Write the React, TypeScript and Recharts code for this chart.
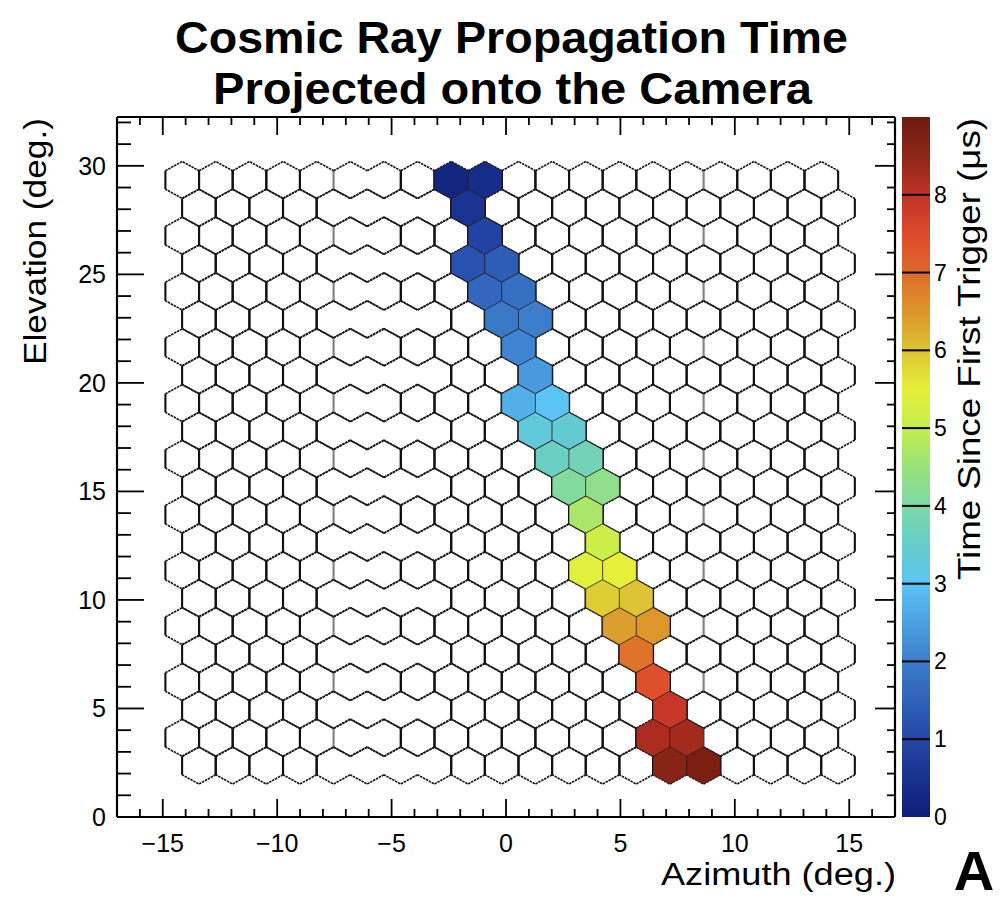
import React from 'react';
import { ScatterChart, Scatter, XAxis, YAxis, BarChart, Bar, ReferenceLine, Label } from 'recharts';

const FONT = '"Liberation Sans", Arial, Helvetica, sans-serif';

// elevation of each camera pixel row (deg.), top to bottom
const rowElevation = [29.35, 28.07, 26.78, 25.5, 24.21, 22.93, 21.64, 20.36, 19.07, 17.79, 16.5,
  15.22, 13.93, 12.65, 11.36, 10.08, 8.79, 7.51, 6.22, 4.94, 3.65, 2.37];
// azimuth of pixel centres (deg.) for even and odd rows
const azEven = [-14.15, -12.68, -11.21, -9.74, -8.27, -6.8, -5.33, -3.86, -2.39, -0.92, 0.55,
  2.02, 3.49, 4.96, 6.43, 7.9, 9.37, 10.84, 12.31, 13.78];
const azOdd = [-13.42, -11.95, -10.48, -9.01, -7.54, -6.07, -4.6, -3.13, -1.66, -0.19, 1.28,
  2.75, 4.22, 5.69, 7.16, 8.63, 10.1, 11.57, 13.04, 14.51];

// triggered pixels: row, column in row, time since first trigger (us)
const hitRow = [0, 0, 1, 2, 3, 3, 4, 4, 5, 5, 6, 7, 8, 8, 9, 9, 10, 10, 11, 11, 12, 13, 14, 14,
  15, 15, 16, 16, 17, 18, 19, 20, 20, 21, 21];
const hitCol = [8, 9, 8, 9, 8, 9, 9, 10, 9, 10, 10, 10, 10, 11, 10, 11, 11, 12, 11, 12, 12, 12, 12, 13,
  12, 13, 13, 14, 13, 14, 14, 14, 15, 14, 15];
const hitTime = [0.2, 0.35, 0.5, 0.9, 1.2, 1.4, 1.6, 1.75, 1.9, 2.0, 2.1, 2.4, 2.7, 3.0, 3.3, 3.4,
  3.6, 3.8, 4.1, 4.3, 4.7, 5.1, 5.4, 5.5, 5.9, 6.0, 6.4, 6.5, 6.9, 7.4, 7.9, 8.2, 8.3, 8.6, 8.8];

const xTicks = [-16, -15, -14, -13, -12, -11, -10, -9, -8, -7, -6, -5, -4, -3, -2, -1, 0,
  1, 2, 3, 4, 5, 6, 7, 8, 9, 10, 11, 12, 13, 14, 15, 16];
const yTicks = [0, 1, 2, 3, 4, 5, 6, 7, 8, 9, 10, 11, 12, 13, 14, 15, 16, 17, 18, 19, 20,
  21, 22, 23, 24, 25, 26, 27, 28, 29, 30, 31, 32];
const cbTicks = [0, 1, 2, 3, 4, 5, 6, 7, 8];
const CB_MAX = 9;

// colour palette (time -> colour)
const paletteValue = [0, 1, 2, 3, 3.5, 4, 4.5, 5, 5.5, 6, 6.5, 7, 7.5, 8, 8.5, 9];
const paletteColor = ['#0d1e78', '#2447a6', '#3c7dcc', '#5cc4f4', '#66ccc8', '#7ed8a8', '#98e27a',
  '#c4ee4c', '#e6f03a', '#dcc434', '#dc962c', '#df6a2c', '#de4a2c', '#c03226', '#8e2618', '#6e1a10'];

// vertical pixel edges that came out faint in the original render
const faintEdges = [
  { parity: 0, az: -7.535, op: 0.3 }, { parity: 0, az: -6.065, op: 0 }, { parity: 0, az: 8.635, op: 0.3 },
  { parity: 1, az: -6.805, op: 0 }, { parity: 1, az: -5.335, op: 0 }, { parity: 1, az: -3.865, op: 0 },
];

const W = 1001, H = 903;
const PLOT_W = 778, PLOT_H = 700;
const X_DOM: [number, number] = [-17, 17];
const Y_DOM: [number, number] = [0, 32.25];
const PX_X = PLOT_W / (X_DOM[1] - X_DOM[0]);
const PX_Y = PLOT_H / (Y_DOM[1] - Y_DOM[0]);
const HALF_W = 0.735;
const HEX_R = 0.85;
const CB_LEFT = 895;

const cells = rowElevation.flatMap((el, r) =>
  (r % 2 === 0 ? azEven : azOdd).map((az) => ({ az, el, parity: r % 2 })));
const hits = hitRow.map((r, i) => ({
  az: (r % 2 === 0 ? azEven : azOdd)[hitCol[i]], el: rowElevation[r], t: hitTime[i],
}));

const colorFor = (t: number) => {
  let i = 0;
  while (i < paletteValue.length - 2 && t > paletteValue[i + 1]) i++;
  const f = Math.min(1, Math.max(0, (t - paletteValue[i]) / (paletteValue[i + 1] - paletteValue[i])));
  const a = paletteColor[i], b = paletteColor[i + 1];
  const ch = (k: number) => {
    const va = parseInt(a.substr(1 + 2 * k, 2), 16), vb = parseInt(b.substr(1 + 2 * k, 2), 16);
    return Math.round(va + (vb - va) * f).toString(16).padStart(2, '0');
  };
  return '#' + ch(0) + ch(1) + ch(2);
};

const hexPts = (cx: number, cy: number) => {
  const hw = HALF_W * PX_X, r = HEX_R * PX_Y;
  return [[cx, cy - r], [cx + hw, cy - r / 2], [cx + hw, cy + r / 2], [cx, cy + r],
    [cx - hw, cy + r / 2], [cx - hw, cy - r / 2]];
};

const edgeOpacity = (parity: number, az: number) => {
  const f = faintEdges.find((e) => e.parity === parity && Math.abs(e.az - az) < 0.05);
  return f ? f.op : 1;
};

const EmptyPixel = (props: any) => {
  const { cx, cy, payload } = props;
  if (cx == null || cy == null) return null;
  const p = hexPts(cx, cy);
  const slant = `M${p[5]} L${p[0]} L${p[1]} M${p[2]} L${p[3]} L${p[4]}`;
  const lo = edgeOpacity(payload.parity, +(payload.az - HALF_W).toFixed(3));
  const ro = edgeOpacity(payload.parity, +(payload.az + HALF_W).toFixed(3));
  return (
    <g>
      <path d={slant} fill="none" stroke="#1c1c1c" strokeWidth={1.7} strokeDasharray="2.5 0.8" />
      {lo > 0 && <line x1={p[5][0]} y1={p[5][1]} x2={p[4][0]} y2={p[4][1]} stroke="#111" strokeWidth={2.1} strokeOpacity={lo} />}
      {ro > 0 && <line x1={p[1][0]} y1={p[1][1]} x2={p[2][0]} y2={p[2][1]} stroke="#111" strokeWidth={2.1} strokeOpacity={ro} />}
    </g>
  );
};

const HitPixel = (props: any) => {
  const { cx, cy, payload } = props;
  if (cx == null || cy == null) return null;
  const p = hexPts(cx, cy);
  return <polygon points={p.map((q) => q.join(',')).join(' ')} fill={colorFor(payload.t)} stroke="#2a1a1a" strokeOpacity={0.55} strokeWidth={1} />;
};

const fmt = (v: number) => (v < 0 ? '\u2212' + -v : String(v));

const BottomTick = ({ x, y, payload }: any) => {
  const major = payload.value % 5 === 0;
  return (
    <g>
      <line x1={x} x2={x} y1={y} y2={y - (major ? 18 : 8)} stroke="#000" strokeWidth={1.8} />
      {major && <text x={x} y={y + 35} textAnchor="middle" fontSize={25} fontFamily={FONT} fill="#000">{fmt(payload.value)}</text>}
    </g>
  );
};
const TopTick = ({ x, y, payload }: any) => (
  <line x1={x} x2={x} y1={y} y2={y + (payload.value % 5 === 0 ? 18 : 8)} stroke="#000" strokeWidth={1.8} />
);
const LeftTick = ({ x, y, payload }: any) => {
  const major = payload.value % 5 === 0;
  return (
    <g>
      <line x1={x} x2={x + (major ? 27 : 14)} y1={y} y2={y} stroke="#000" strokeWidth={1.8} />
      {major && <text x={x - 11} y={y + 9} textAnchor="end" fontSize={25} fontFamily={FONT} fill="#000">{fmt(payload.value)}</text>}
    </g>
  );
};
const RightTick = ({ x, y, payload }: any) => (
  <line x1={x} x2={x - (payload.value % 5 === 0 ? 20 : 8)} y1={y} y2={y} stroke="#000" strokeWidth={1.8} />
);
const CbTick = ({ x, y, payload }: any) => (
  <text x={x + 4} y={y + 8} fontSize={23} fontFamily={FONT} fill="#000">{payload.value}</text>
);

const AzTitle = ({ viewBox }: any) => (
  <text x={viewBox.x + viewBox.width + 1} y={885} textAnchor="end" fontSize={31} fontFamily={FONT}
    textLength={235} lengthAdjust="spacingAndGlyphs" fill="#000">Azimuth (deg.)</text>
);
const ElTitle = ({ viewBox }: any) => {
  const x = 46, y = viewBox.y + 1;
  return (
    <text transform={`rotate(-90, ${x}, ${y})`} x={x} y={y} textAnchor="end" fontSize={31} fontFamily={FONT}
      textLength={247} lengthAdjust="spacingAndGlyphs" fill="#000">Elevation (deg.)</text>
  );
};
const CbTitle = ({ viewBox }: any) => {
  const x = 980 - CB_LEFT, y = viewBox.y + 1;
  return (
    <text transform={`rotate(-90, ${x}, ${y})`} x={x} y={y} textAnchor="end" fontSize={31} fontFamily={FONT}
      textLength={462} lengthAdjust="spacingAndGlyphs" fill="#000">Time Since First Trigger (μs)</text>
  );
};

const axisLine = { stroke: '#000', strokeWidth: 2.2 };

const App = () => (
  <div style={{ position: 'absolute', left: 0, top: 0, width: W, height: H, background: '#fff', fontFamily: FONT }}>
    <div style={{ position: 'absolute', left: 0, top: 0 }}>
      <ScatterChart width={W} height={H} margin={{ top: 107, right: 96, bottom: 6, left: 0 }}>
        <XAxis xAxisId="b" type="number" dataKey="az" domain={X_DOM} ticks={xTicks} interval={0}
          height={80} tickSize={0} tickMargin={0} axisLine={axisLine} tickLine={false} tick={<BottomTick />}>
          <Label content={<AzTitle />} />
        </XAxis>
        <XAxis xAxisId="t" orientation="top" type="number" dataKey="az" domain={X_DOM} ticks={xTicks} interval={0}
          height={10} tickSize={0} tickMargin={0} axisLine={axisLine} tickLine={false} tick={<TopTick />} />
        <YAxis yAxisId="l" type="number" dataKey="el" domain={Y_DOM} ticks={yTicks} interval={0}
          width={117} tickSize={0} tickMargin={0} axisLine={axisLine} tickLine={false} tick={<LeftTick />}>
          <Label content={<ElTitle />} />
        </YAxis>
        <YAxis yAxisId="r" orientation="right" type="number" dataKey="el" domain={Y_DOM} ticks={yTicks} interval={0}
          width={10} tickSize={0} tickMargin={0} axisLine={axisLine} tickLine={false} tick={<RightTick />} />
        <Scatter xAxisId="b" yAxisId="l" data={cells} shape={<EmptyPixel />} isAnimationActive={false} />
        <Scatter xAxisId="t" yAxisId="r" data={hits} shape={<HitPixel />} isAnimationActive={false} />
      </ScatterChart>
    </div>
    <div style={{ position: 'absolute', left: CB_LEFT, top: 0 }}>
      <BarChart width={W - CB_LEFT} height={H} data={[{ name: 'scale', top: CB_MAX }]} barCategoryGap={0}
        margin={{ top: 117, right: 0, bottom: 86, left: 7 }}>
        <defs>
          <linearGradient id="cbGrad" x1="0" y1="1" x2="0" y2="0">
            {paletteValue.map((v, i) => <stop key={v} offset={v / CB_MAX} stopColor={paletteColor[i]} />)}
          </linearGradient>
        </defs>
        <XAxis dataKey="name" hide />
        <YAxis orientation="right" type="number" domain={[0, CB_MAX]} ticks={cbTicks} interval={0} width={71}
          tickSize={0} tickMargin={0} axisLine={false} tickLine={false} tick={<CbTick />}>
          <Label content={<CbTitle />} />
        </YAxis>
        <Bar dataKey="top" fill="url(#cbGrad)" isAnimationActive={false} />
        {cbTicks.slice(1).map((v) => <ReferenceLine key={v} y={v} stroke="#000" strokeWidth={2} />)}
      </BarChart>
    </div>
    <svg width={W} height={H} style={{ position: 'absolute', left: 0, top: 0, pointerEvents: 'none' }}>
      <text x={511.5} y={53} textAnchor="middle" fontSize={45} fontWeight="bold" fontFamily={FONT}
        textLength={673} lengthAdjust="spacingAndGlyphs">Cosmic Ray Propagation Time</text>
      <text x={512.5} y={104} textAnchor="middle" fontSize={45} fontWeight="bold" fontFamily={FONT}
        textLength={599} lengthAdjust="spacingAndGlyphs">Projected onto the Camera</text>
      <text x={974} y={890} textAnchor="middle" fontSize={56} fontWeight="bold" fontFamily={FONT}>A</text>
    </svg>
  </div>
);

export default App;
